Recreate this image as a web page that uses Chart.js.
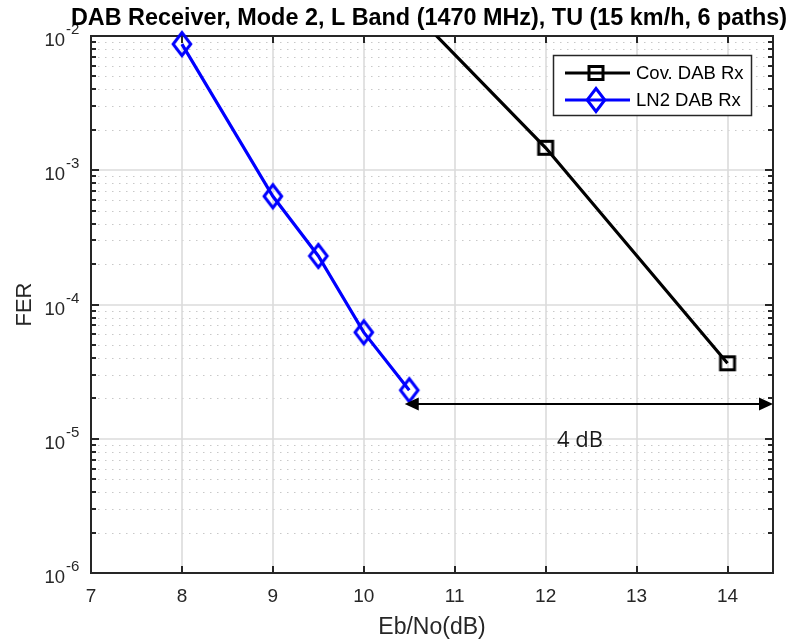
<!DOCTYPE html>
<html><head><meta charset="utf-8">
<script src="https://cdn.jsdelivr.net/npm/chart.js@4/dist/chart.umd.min.js"></script>
<style>html,body{margin:0;padding:0;background:#fff}</style>
</head><body>
<canvas id="c" width="794" height="640" style="width:794px;height:640px;display:block"></canvas>
<script>
// ---- data ----
const chartTitle = 'DAB Receiver, Mode 2, L Band (1470 MHz), TU (15 km/h, 6 paths)';
const xLabel = 'Eb/No(dB)';
const yLabel = 'FER';
const xTicks = [7, 8, 9, 10, 11, 12, 13, 14];
const yDecades = [-6, -5, -4, -3, -2];
const seriesNames = ['Cov. DAB Rx', 'LN2 DAB Rx'];
const covX = [10, 12, 14];
const covFER = [3.6e-2, 1.47e-3, 3.65e-5];
const ln2X = [8, 9, 9.5, 10, 10.5];
const ln2FER = [8.7e-3, 6.4e-4, 2.3e-4, 6.2e-5, 2.3e-5];
const arrowX = [10.45, 14.5];
const arrowY = 1.8e-5;
const arrowText = '4 dB';

// ---- markers ----
function diamondMarker(color){
  const c = document.createElement('canvas'); c.width = 32; c.height = 38;
  const g = c.getContext('2d');
  g.strokeStyle = color; g.lineWidth = 3; g.lineJoin = 'miter';
  g.beginPath(); g.moveTo(16, 19-11.5); g.lineTo(16+8.8, 19); g.lineTo(16, 19+11.5); g.lineTo(16-8.8, 19); g.closePath(); g.stroke();
  return c;
}
function squareMarker(color){
  const c = document.createElement('canvas'); c.width = 22; c.height = 22;
  const g = c.getContext('2d');
  g.strokeStyle = color; g.lineWidth = 3;
  g.strokeRect(11-7, 11-6.5, 14, 13);
  return c;
}
const sq = squareMarker('#000000');
const dm = diamondMarker('#0000ff');

const AX = '#262626';
const FONT = '"Liberation Sans", Arial, sans-serif';

const matlab = {
  id: 'matlab',
  beforeDatasetsDraw(chart){
    const ctx = chart.ctx, a = chart.chartArea, xs = chart.scales.x, ys = chart.scales.y;
    ctx.save();
    // minor y grid (dotted)
    ctx.strokeStyle = '#c8c8c8'; ctx.lineWidth = 1; ctx.setLineDash([1.5, 5.5]);
    for (const e of yDecades.slice(0, -1)) for (let m = 2; m <= 9; m++){
      const y = Math.round(ys.getPixelForValue(m * Math.pow(10, e))) + 0.5;
      ctx.beginPath(); ctx.moveTo(a.left, y); ctx.lineTo(a.right, y); ctx.stroke();
    }
    ctx.setLineDash([]);
    // major grid
    ctx.strokeStyle = '#dbdbdb'; ctx.lineWidth = 1.6;
    for (const v of xTicks){
      const x = Math.round(xs.getPixelForValue(v));
      ctx.beginPath(); ctx.moveTo(x, a.top); ctx.lineTo(x, a.bottom); ctx.stroke();
    }
    for (const e of yDecades){
      const y = Math.round(ys.getPixelForValue(Math.pow(10, e)));
      ctx.beginPath(); ctx.moveTo(a.left, y); ctx.lineTo(a.right, y); ctx.stroke();
    }
    // box
    ctx.strokeStyle = AX; ctx.lineWidth = 2;
    ctx.strokeRect(a.left, a.top, a.right - a.left, a.bottom - a.top);
    // ticks
    ctx.lineWidth = 2;
    for (const v of xTicks){
      const x = Math.round(xs.getPixelForValue(v));
      ctx.beginPath(); ctx.moveTo(x, a.bottom); ctx.lineTo(x, a.bottom - 7);
      ctx.moveTo(x, a.top); ctx.lineTo(x, a.top + 7); ctx.stroke();
    }
    for (const e of yDecades){
      const y = Math.round(ys.getPixelForValue(Math.pow(10, e)));
      ctx.beginPath(); ctx.moveTo(a.left, y); ctx.lineTo(a.left + 8, y);
      ctx.moveTo(a.right, y); ctx.lineTo(a.right - 8, y); ctx.stroke();
      if (e < yDecades[yDecades.length-1]) for (let m = 2; m <= 9; m++){
        const ym = Math.round(ys.getPixelForValue(m * Math.pow(10, e)));
        ctx.beginPath(); ctx.moveTo(a.left, ym); ctx.lineTo(a.left + 5, ym);
        ctx.moveTo(a.right, ym); ctx.lineTo(a.right - 5, ym); ctx.stroke();
      }
    }
    // tick labels
    ctx.fillStyle = AX;
    ctx.font = '19px ' + FONT; ctx.textAlign = 'center'; ctx.textBaseline = 'middle';
    for (const v of xTicks) ctx.fillText(String(v), xs.getPixelForValue(v), a.bottom + 24);
    for (const e of yDecades){
      const y = ys.getPixelForValue(Math.pow(10, e));
      ctx.font = '18.5px ' + FONT; ctx.textAlign = 'right';
      ctx.fillText('10', a.left - 26, y + 5);
      ctx.font = '15px ' + FONT; ctx.textAlign = 'left';
      ctx.fillText(String(e), a.left - 25, y - 6);
    }
    // axis labels
    ctx.font = '23px ' + FONT; ctx.textAlign = 'center'; ctx.textBaseline = 'alphabetic';
    ctx.fillText(xLabel, (a.left + a.right) / 2, 634);
    ctx.font = '22px ' + FONT;
    ctx.save(); ctx.translate(31, (a.top + a.bottom) / 2); ctx.rotate(-Math.PI / 2);
    ctx.fillText(yLabel, 0, 0); ctx.restore();
    // title
    ctx.fillStyle = '#000';
    ctx.font = 'bold 23.4px ' + FONT; ctx.textAlign = 'center'; ctx.textBaseline = 'alphabetic';
    ctx.fillText(chartTitle, (a.left + a.right) / 2 - 3, 25);
    ctx.restore();
  },
  afterDatasetsDraw(chart){
    const ctx = chart.ctx, a = chart.chartArea, xs = chart.scales.x, ys = chart.scales.y;
    ctx.save();
    // double arrow
    const y = Math.round(ys.getPixelForValue(arrowY));
    const x1 = xs.getPixelForValue(arrowX[0]), x2 = xs.getPixelForValue(arrowX[1]);
    ctx.strokeStyle = '#000'; ctx.fillStyle = '#000'; ctx.lineWidth = 2.2;
    ctx.beginPath(); ctx.moveTo(x1 + 6, y); ctx.lineTo(x2 - 6, y); ctx.stroke();
    ctx.beginPath(); ctx.moveTo(x1, y); ctx.lineTo(x1 + 14, y - 6.5); ctx.lineTo(x1 + 14, y + 6.5); ctx.closePath(); ctx.fill();
    ctx.beginPath(); ctx.moveTo(x2, y); ctx.lineTo(x2 - 14, y - 6.5); ctx.lineTo(x2 - 14, y + 6.5); ctx.closePath(); ctx.fill();
    ctx.font = '22px "Open Sans", sans-serif'; ctx.textAlign = 'center'; ctx.textBaseline = 'middle';
    ctx.fillStyle = '#1a1a1a';
    ctx.fillText(arrowText, (x1 + x2) / 2 - 9, y + 37);
    // legend
    const L = 553, T = 55, R = 752, B = 116;
    ctx.fillStyle = '#fff'; ctx.fillRect(L, T, R - L, B - T);
    ctx.strokeStyle = AX; ctx.lineWidth = 1.5; ctx.strokeRect(L + 0.5, T + 0.5, R - L - 1, B - T - 1);
    const rows = [{y: 73, color: '#000', img: sq}, {y: 100, color: '#0000ff', img: dm}];
    rows.forEach((r, i) => {
      ctx.strokeStyle = r.color; ctx.lineWidth = 3;
      ctx.beginPath(); ctx.moveTo(565, r.y); ctx.lineTo(630, r.y); ctx.stroke();
      ctx.drawImage(r.img, 596 - r.img.width / 2, r.y - r.img.height / 2);
      ctx.fillStyle = '#000'; ctx.font = '18.5px ' + FONT; ctx.textAlign = 'left'; ctx.textBaseline = 'middle';
      ctx.fillText(seriesNames[i], 636, r.y + 1);
    });
    ctx.restore();
  }
};

new Chart(document.getElementById('c'), {
  type: 'line',
  data: {
    datasets: [
      { label: seriesNames[0], data: covX.map((x, i) => ({x, y: covFER[i]})),
        borderColor: '#000', borderWidth: 3.2, pointStyle: sq, pointRadius: 10, tension: 0, fill: false },
      { label: seriesNames[1], data: ln2X.map((x, i) => ({x, y: ln2FER[i]})),
        borderColor: '#0000ff', borderWidth: 3.2, pointStyle: dm, pointRadius: 10, tension: 0, fill: false, clip: false }
    ]
  },
  options: {
    responsive: false, animation: false, devicePixelRatio: 1,
    layout: { padding: { left: 0, right: 21, top: 36, bottom: 0 } },
    plugins: { legend: { display: false }, title: { display: false }, tooltip: { enabled: false } },
    scales: {
      x: { type: 'linear', min: 7, max: 14.5, grid: { display: false }, border: { display: false },
           ticks: { display: false }, afterFit(s){ s.height = 67; } },
      y: { type: 'logarithmic', min: 1e-6, max: 1e-2, grid: { display: false }, border: { display: false },
           ticks: { display: false }, afterFit(s){ s.width = 91; } }
    }
  },
  plugins: [matlab]
});
</script>
</body></html>
